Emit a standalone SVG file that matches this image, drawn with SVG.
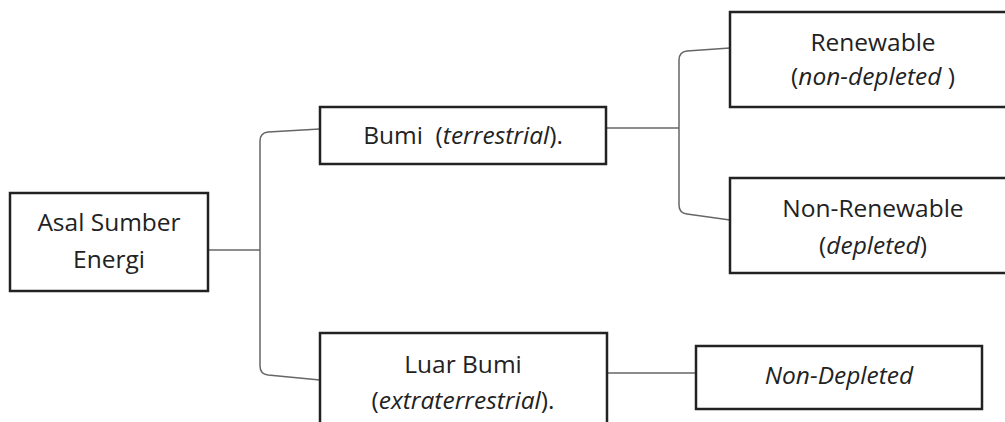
<svg xmlns="http://www.w3.org/2000/svg" width="1005" height="422" viewBox="0 0 1005 422">
<style>
.box{fill:#fff;stroke:#222;stroke-width:2.5}
.t{font-family:"Open Sans","Liberation Sans",sans-serif;font-size:24.5px;fill:#222;text-anchor:middle;white-space:pre}
.i{font-style:italic}
.c{fill:none;stroke:#666;stroke-width:1.5}
</style>
<rect width="1005" height="422" fill="#fff"/>
<g id="connectors">
<path class="c" d="M208,250 H260"/>
<path class="c" d="M320,129 L268,132 Q260,133 260,141 V366 Q260,374 268,375 L320,380"/>
<path class="c" d="M606,128 H679"/>
<path class="c" d="M730,48 L687,51 Q679,52 679,60 V205 Q679,213 687,214 L730,220"/>
<path class="c" d="M607,373 H696"/>
</g>
<g id="asal">
<rect class="box" x="10" y="193" width="198" height="98"/>
<text class="t" x="109" y="231">Asal Sumber</text>
<text class="t" x="109" y="268">Energi</text>
</g>
<g id="bumi">
<rect class="box" x="320" y="107" width="286" height="57"/>
<text class="t" x="463" y="144" xml:space="preserve">Bumi  (<tspan class="i">terrestrial</tspan>).</text>
</g>
<g id="renewable">
<rect class="box" x="730" y="12" width="290" height="95"/>
<text class="t" x="873" y="51">Renewable</text>
<text class="t" x="873" y="85" xml:space="preserve">(<tspan class="i">non-depleted </tspan>)</text>
</g>
<g id="nonrenewable">
<rect class="box" x="730" y="178" width="290" height="95"/>
<text class="t" x="873" y="217">Non-Renewable</text>
<text class="t" x="873" y="254">(<tspan class="i">depleted</tspan>)</text>
</g>
<g id="luarbumi">
<rect class="box" x="320" y="333" width="287" height="100"/>
<text class="t" x="463" y="373">Luar Bumi</text>
<text class="t" x="463" y="409">(<tspan class="i">extraterrestrial</tspan>).</text>
</g>
<g id="nondepleted">
<rect class="box" x="696" y="346" width="286" height="63"/>
<text class="t i" x="839" y="384">Non-Depleted</text>
</g>
</svg>
